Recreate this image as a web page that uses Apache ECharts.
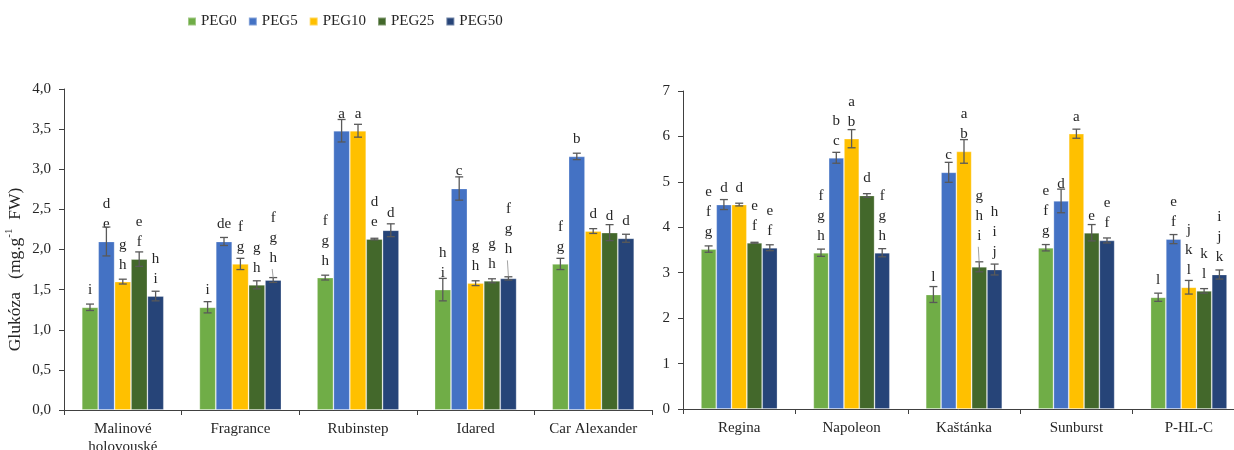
<!DOCTYPE html>
<html>
<head>
<meta charset="utf-8">
<script src="https://cdn.jsdelivr.net/npm/echarts@6/dist/echarts.min.js"></script>
<style>
  html, body { margin: 0; padding: 0; background: #fff; }
  #chart { width: 1234px; height: 450px; }
</style>
</head>
<body>
<div id="chart"></div>
<script>
// Treatments (legend order)
const seriesNames = ['PEG0', 'PEG5', 'PEG10', 'PEG25', 'PEG50'];

// Left panel: cultivars and glucose means (mg.g-1 FW)
const leftCategories = ['Malinové\nholovouské', 'Fragrance', 'Rubinstep', 'Idared', 'Car Alexander'];
const leftPEG0  = [1.28, 1.28, 1.65, 1.50, 1.82];
const leftPEG5  = [2.10, 2.10, 3.48, 2.76, 3.16];
const leftPEG10 = [1.60, 1.82, 3.48, 1.58, 2.23];
const leftPEG25 = [1.88, 1.56, 2.13, 1.61, 2.21];
const leftPEG50 = [1.42, 1.62, 2.24, 1.64, 2.14];
// standard deviations
const leftErrPEG0  = [0.04, 0.07, 0.03, 0.14, 0.07];
const leftErrPEG5  = [0.18, 0.05, 0.14, 0.145, 0.04];
const leftErrPEG10 = [0.03, 0.07, 0.08, 0.03, 0.03];
const leftErrPEG25 = [0.09, 0.05, 0.01, 0.025, 0.10];
const leftErrPEG50 = [0.06, 0.03, 0.08, 0.02, 0.05];
// significance letters
const leftLetPEG0  = ['i', 'i', 'f g h', 'h i', 'f g'];
const leftLetPEG5  = ['d e', 'de', 'a', 'c', 'b'];
const leftLetPEG10 = ['g h', 'f g', 'a', 'g h', 'd'];
const leftLetPEG25 = ['e f', 'g h', 'd e', 'g h', 'd'];
const leftLetPEG50 = ['h i', 'f g h', 'd', 'f g h', 'd'];
const leftTicks = [0, 0.5, 1, 1.5, 2, 2.5, 3, 3.5, 4];

// Right panel
const rightCategories = ['Regina', 'Napoleon', 'Kaštánka', 'Sunburst', 'P-HL-C'];
const rightPEG0  = [3.52, 3.44, 2.52, 3.55, 2.46];
const rightPEG5  = [4.50, 5.53, 5.21, 4.58, 3.74];
const rightPEG10 = [4.50, 5.95, 5.67, 6.06, 2.68];
const rightPEG25 = [3.66, 4.70, 3.13, 3.88, 2.60];
const rightPEG50 = [3.55, 3.44, 3.07, 3.71, 2.96];
const rightErrPEG0  = [0.07, 0.08, 0.175, 0.07, 0.09];
const rightErrPEG5  = [0.11, 0.12, 0.22, 0.26, 0.10];
const rightErrPEG10 = [0.03, 0.20, 0.26, 0.10, 0.15];
const rightErrPEG25 = [0.01, 0.04, 0.11, 0.18, 0.05];
const rightErrPEG50 = [0.065, 0.09, 0.12, 0.055, 0.10];
const rightLetPEG0  = ['e f g', 'f g h', 'l', 'e f g', 'l'];
const rightLetPEG5  = ['d', 'b c', 'c', 'd', 'e f'];
const rightLetPEG10 = ['d', 'a b', 'a b', 'a', 'j k l'];
const rightLetPEG25 = ['e f', 'd', 'g h i', 'e', 'k l'];
const rightLetPEG50 = ['e f', 'f g h', 'h i j', 'e f', 'i j k'];
const rightTicks = [0, 1, 2, 3, 4, 5, 6, 7];

// Styling
const colors = ['#70AD47', '#4472C4', '#FFC000', '#43682B', '#264478'];
const serif = "'Liberation Serif', 'Times New Roman', serif";
const textColor = '#262626';
const axisColor = '#404040';
// labels that were dragged upward and joined to their bar by a leader line
const labelLift = { 'Fragrance|PEG50': 5, 'Idared|PEG50': 12, 'Kaštánka|PEG25': 14 };

const panels = [
  {
    cats: leftCategories,
    vals: [leftPEG0, leftPEG5, leftPEG10, leftPEG25, leftPEG50],
    errs: [leftErrPEG0, leftErrPEG5, leftErrPEG10, leftErrPEG25, leftErrPEG50],
    lets: [leftLetPEG0, leftLetPEG5, leftLetPEG10, leftLetPEG25, leftLetPEG50],
    ticks: leftTicks, barW: 16.4
  },
  {
    cats: rightCategories,
    vals: [rightPEG0, rightPEG5, rightPEG10, rightPEG25, rightPEG50],
    errs: [rightErrPEG0, rightErrPEG5, rightErrPEG10, rightErrPEG25, rightErrPEG50],
    lets: [rightLetPEG0, rightLetPEG5, rightLetPEG10, rightLetPEG25, rightLetPEG50],
    ticks: rightTicks, barW: 15.3
  }
];

const baseDist = 7;
const series = [];

panels.forEach((p, pi) => {
  const errData = [];
  seriesNames.forEach((name, k) => {
    const data = p.vals[k].map((v, i) => {
      const lift = labelLift[p.cats[i] + '|' + name] || 0;
      errData.push([i, v, p.errs[k][i], k, lift]);
      return { value: v, label: { distance: baseDist + lift } };
    });
    series.push({
      name: name,
      type: 'bar',
      xAxisIndex: pi,
      yAxisIndex: pi,
      barWidth: p.barW,
      barGap: '0%',
      itemStyle: { color: colors[k], borderColor: 'rgba(255,255,255,0.35)', borderWidth: 0.8 },
      label: {
        show: true,
        position: 'top',
        fontFamily: serif,
        fontSize: 15,
        lineHeight: 20,
        color: textColor,
        formatter: (params) => p.lets[k][params.dataIndex].split(' ').join('\n')
      },
      data: data,
      z: 2
    });
  });
  const barW = p.barW;
  series.push({
    name: 'sd' + pi,
    type: 'custom',
    xAxisIndex: pi,
    yAxisIndex: pi,
    encode: { x: 0, y: 1 },
    z: 5,
    silent: true,
    data: errData,
    renderItem: (params, api) => {
      const cat = api.value(0), v = api.value(1), e = api.value(2), k = api.value(3), lift = api.value(4);
      const top = api.coord([cat, v]);
      const x = top[0] + (k - 2) * barW;
      const y1 = api.coord([cat, v + e])[1];
      const y2 = api.coord([cat, v - e])[1];
      const cap = 4;
      const st = { stroke: '#595959', lineWidth: 1.3 };
      const children = [
        { type: 'line', shape: { x1: x, y1: y1, x2: x, y2: y2 }, style: st },
        { type: 'line', shape: { x1: x - cap, y1: y1, x2: x + cap, y2: y1 }, style: st },
        { type: 'line', shape: { x1: x - cap, y1: y2, x2: x + cap, y2: y2 }, style: st }
      ];
      if (lift > 0) {
        children.push({
          type: 'line',
          shape: { x1: x, y1: top[1] - 2, x2: x - 1, y2: top[1] - lift - 6 },
          style: { stroke: '#8c8c8c', lineWidth: 0.8 }
        });
      }
      return { type: 'group', children: children };
    }
  });
});

const axisLabelStyle = { fontFamily: serif, fontSize: 15, color: textColor };

const option = {
  animation: false,
  backgroundColor: '#fff',
  color: colors,
  legend: {
    data: seriesNames,
    left: 182,
    top: 9,
    icon: 'rect',
    itemWidth: 8,
    itemHeight: 8,
    itemGap: 11,
    textStyle: { fontFamily: serif, fontSize: 15, color: textColor }
  },
  grid: [
    { left: 64, top: 89, width: 588, height: 321, outerBoundsMode: 'none' },
    { left: 683, top: 91, width: 562, height: 318, outerBoundsMode: 'none' }
  ],
  xAxis: panels.map((p, pi) => ({
    type: 'category',
    gridIndex: pi,
    data: p.cats,
    axisLine: { lineStyle: { color: axisColor, width: 1 } },
    axisTick: { show: true, length: 5, lineStyle: { color: axisColor } },
    axisLabel: Object.assign({ margin: 10, lineHeight: 18, interval: 0 }, axisLabelStyle)
  })),
  yAxis: panels.map((p, pi) => {
    const t = p.ticks;
    const step = t[1] - t[0];
    return {
      type: 'value',
      gridIndex: pi,
      min: t[0],
      max: t[t.length - 1],
      interval: step,
      splitLine: { show: false },
      axisLine: { show: true, lineStyle: { color: axisColor, width: 1 } },
      axisTick: { show: true, length: 5, lineStyle: { color: axisColor } },
      axisLabel: Object.assign({
        margin: 13,
        formatter: (v) => pi === 0 ? v.toFixed(1).replace('.', ',') : String(v)
      }, axisLabelStyle),
      name: pi === 0 ? '{a|Glukóza   (mg.g}{s|-1}{a|  FW)}' : '',
      nameLocation: 'middle',
      nameGap: 38,
      nameTextStyle: {
        padding: [0, 40, 0, 0],
        rich: {
          a: { fontFamily: serif, fontSize: 17.5, color: textColor, lineHeight: 22 },
          s: { fontFamily: serif, fontSize: 11, color: textColor, lineHeight: 22, verticalAlign: 'top' }
        }
      }
    };
  }),
  series: series
};

const chart = echarts.init(document.getElementById('chart'), null, { renderer: 'canvas' });
chart.setOption(option);
</script>
</body>
</html>
